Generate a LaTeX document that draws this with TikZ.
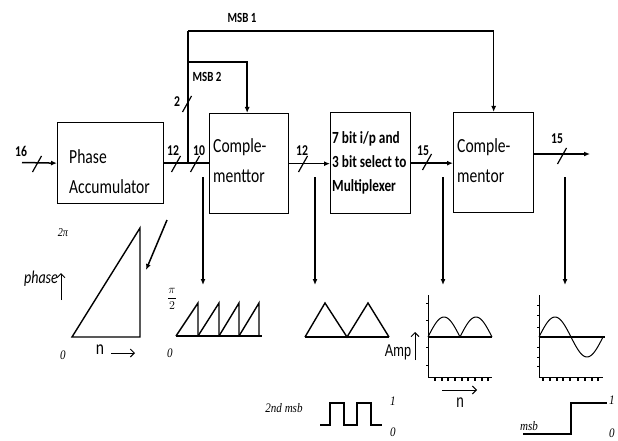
\documentclass[tikz,border=0pt]{standalone}
\usepackage{fontspec}
\usetikzlibrary{arrows.meta}
\newfontfamily\blk[FakeStretch=0.78]{Carlito}
\newfontfamily\ser[FakeStretch=0.85]{Liberation Serif}
\newfontfamily\arl[FakeStretch=0.75]{Liberation Sans}
\begin{document}
\begin{tikzpicture}[x=1pt,y=-1pt,
  box/.style={draw, line width=1.3pt, inner sep=0pt, anchor=north west},
  wire/.style={line width=1.5pt},
  arr/.style={wire, -{Latex[length=6pt,width=5pt]}},
  thinl/.style={line width=1pt},
  plotl/.style={line width=1.4pt},
  btxt/.style={font=\blk\fontsize{20}{24}\selectfont, anchor=base west, inner sep=0pt},
  mtxt/.style={font=\blk\bfseries\fontsize{17}{20}\selectfont, anchor=base west, inner sep=0pt},
  lbl/.style={font=\blk\bfseries\fontsize{15}{17}\selectfont, inner sep=0pt},
  msbl/.style={font=\blk\bfseries\fontsize{14}{16}\selectfont, inner sep=0pt},
  ital/.style={font=\ser\itshape\fontsize{13}{15}\selectfont, inner sep=0pt},
  busslash/.pic={\draw[line width=1.2pt] (-4.5,8) -- (4.5,-8);},
  openarr/.style={line width=1pt, -{Straight Barb[length=4pt,width=8pt]}}
]
\useasboundingbox (0,0) rectangle (618,441);

% blocks
\node[box, minimum width=106pt, minimum height=81pt] (pa) at (57,122) {};
\node[box, minimum width=79pt, minimum height=100pt] (c1) at (209,113) {};
\node[box, minimum width=80pt, minimum height=101pt] (mux) at (330,112) {};
\node[box, minimum width=80pt, minimum height=100pt] (c2) at (453,112) {};

\node[btxt] (pa1) at (69,163) {Phase};
\node[btxt] (pa2) at (69,193) {Accumulator};
\node[btxt] (c1a) at (213,152) {Comple-};
\node[btxt] (c1b) at (213,182) {menttor};
\node[mtxt] (m1) at (332,143) {7 bit i/p and};
\node[mtxt] (m2) at (332,167) {3 bit select to};
\node[mtxt] (m3) at (332,191) {Multiplexer};
\node[btxt] (c2a) at (457,152) {Comple-};
\node[btxt] (c2b) at (457,182) {mentor};

% connectors
\coordinate (in) at (22,162.5);
\draw[arr] (in) -- (pa.west);
\draw[wire] (pa.east) -- (c1.west |- pa.east);
\draw[arr] (c1.east) -- (mux.west |- c1.east);
\draw[arr] (mux.east) -- (c2.west |- mux.east);
\coordinate (out) at (590,154);
\draw[arr] (c2.east |- out) -- (out);
\coordinate (tap) at (188,162.5);
\coordinate (t1) at (188,31);
\coordinate (t2) at (188,62);
\draw[wire] (tap) -- (t1);
\draw[arr] (t1) -| (c2.north);
\draw[arr] (t2) -| ([xshift=-2pt]c1.north);

% bus labels
\node[msbl] (lm1) at (242,18) {MSB 1};
\node[msbl] (lm2) at (207,77) {MSB 2};
\node[lbl] (l16) at (21,151) {16};
\node[lbl] (l12a) at (173,151) {12};
\node[lbl] (l10) at (199,151) {10};
\node[lbl] (l12b) at (302,151) {12};
\node[lbl] (l15a) at (423,151) {15};
\node[lbl] (l15b) at (557,139) {15};
\node[lbl] (l2) at (177,102) {2};
\pic at (37,164) {busslash};
\pic at (176,164) {busslash};
\pic at (195,164) {busslash};
\pic at (303,164) {busslash};
\pic at (427,162) {busslash};
\pic at (562,156) {busslash};
\pic at (187,104) {busslash};

% downward arrows
\coordinate (d1s) at (203,177); \coordinate (d1e) at (203,285);
\coordinate (d2s) at (315,177); \coordinate (d2e) at (315,285);
\coordinate (d3s) at (443,177); \coordinate (d3e) at (443,285);
\coordinate (d4s) at (565,177); \coordinate (d4e) at (565,285);
\coordinate (dgs) at (167,220); \coordinate (dge) at (146,270);
\draw[arr] (d1s) -- (d1e);
\draw[arr] (d2s) -- (d2e);
\draw[arr] (d3s) -- (d3e);
\draw[arr] (d4s) -- (d4e);
\draw[arr] (dgs) -- (dge);

% phase ramp
\draw[plotl] (72,337) -- (140,337) -- (140,228) -- cycle;
\node[font=\ser\itshape\fontsize{12}{14}\selectfont, inner sep=0pt] (tpi) at (63,233) {2π};
\node[font=\blk\itshape\fontsize{18}{20}\selectfont, inner sep=0pt] (tph) at (41,279) {phase};
\draw[openarr] (61,300) -- (61,273);
\node[ital] (t0a) at (63,355) {0};
\node[font=\blk\fontsize{20}{22}\selectfont, inner sep=0pt] (tn1) at (100,350) {n};
\draw[openarr] (111,353) -- (135,353);

% sawtooth
\draw[plotl] (176,336) -- (262,336);
\foreach \a/\b in {176/198, 198/219, 219/239, 239/259}
  \draw[plotl] (\a,336) -- (\b,303) -- (\b,336);
\node[font=\fontsize{13}{15}\selectfont, inner sep=0pt] (tpi2) at (172,299) {$\displaystyle\frac{\pi}{2}$};
\node[ital] (t0b) at (170,353) {0};

% triangles
\draw[plotl] (305,337) -- (389,337);
\draw[plotl] (305,337) -- (325,303) -- (347,337) -- (368,303) -- (389,337);

% rectified sine
\draw[thinl] (428,295) -- (428,377) -- (492,377);
\draw[plotl] (428,337) -- (492,337);
\draw[thinl] plot[domain=0:180, samples=40] ({428+\x/180*32}, {337-20*sin(\x)});
\draw[thinl] plot[domain=0:180, samples=40] ({460+\x/180*32}, {337-20*sin(\x)});
\foreach \y in {303,320,347,365} \draw[line width=0.6pt] (426,\y) -- (428,\y);
\foreach \x in {435,442,448,455,462,468,475,482,488} \draw[line width=1.2pt] (\x,377) -- (\x,381);
\node[font=\arl\fontsize{17}{19}\selectfont, inner sep=0pt] (tamp) at (398,352) {Amp};
\draw[openarr] (415,360) -- (415,332);
\draw[openarr] (442,390) -- (477,390);
\node[font=\arl\fontsize{18}{20}\selectfont, inner sep=0pt] (tn2) at (460,403) {n};

% sine
\draw[thinl] (539,295) -- (539,377) -- (603,377);
\draw[plotl] (539,337) -- (605,337);
\draw[thinl] plot[domain=0:360, samples=60] ({539+\x/360*64}, {337-20*sin(\x)});
\foreach \y in {305,315,327,347,357,366} \draw[line width=0.6pt] (537,\y) -- (539,\y);
\foreach \x in {543,550,557,563,570,578,585,592,598} \draw[line width=1.2pt] (\x,377) -- (\x,381);

% square wave (2nd msb)
\draw[plotl] (320,425) -- (330,425) -- (330,403) -- (344,403) -- (344,425) -- (357,425) -- (357,403) -- (371,403) -- (371,425) -- (382,425);
\node[ital] (t2msb) at (284,408) {2nd msb};
\node[ital] (t1a) at (393,401) {1};
\node[ital] (t0c) at (393,432) {0};

% step (msb)
\draw[plotl] (523,434) -- (571,434) -- (571,403) -- (607,403);
\node[ital] (tmsb) at (529,426) {msb};
\node[ital] (t1b) at (612,400) {1};
\node[ital] (t0d) at (612,433) {0};
\end{tikzpicture}
\end{document}
